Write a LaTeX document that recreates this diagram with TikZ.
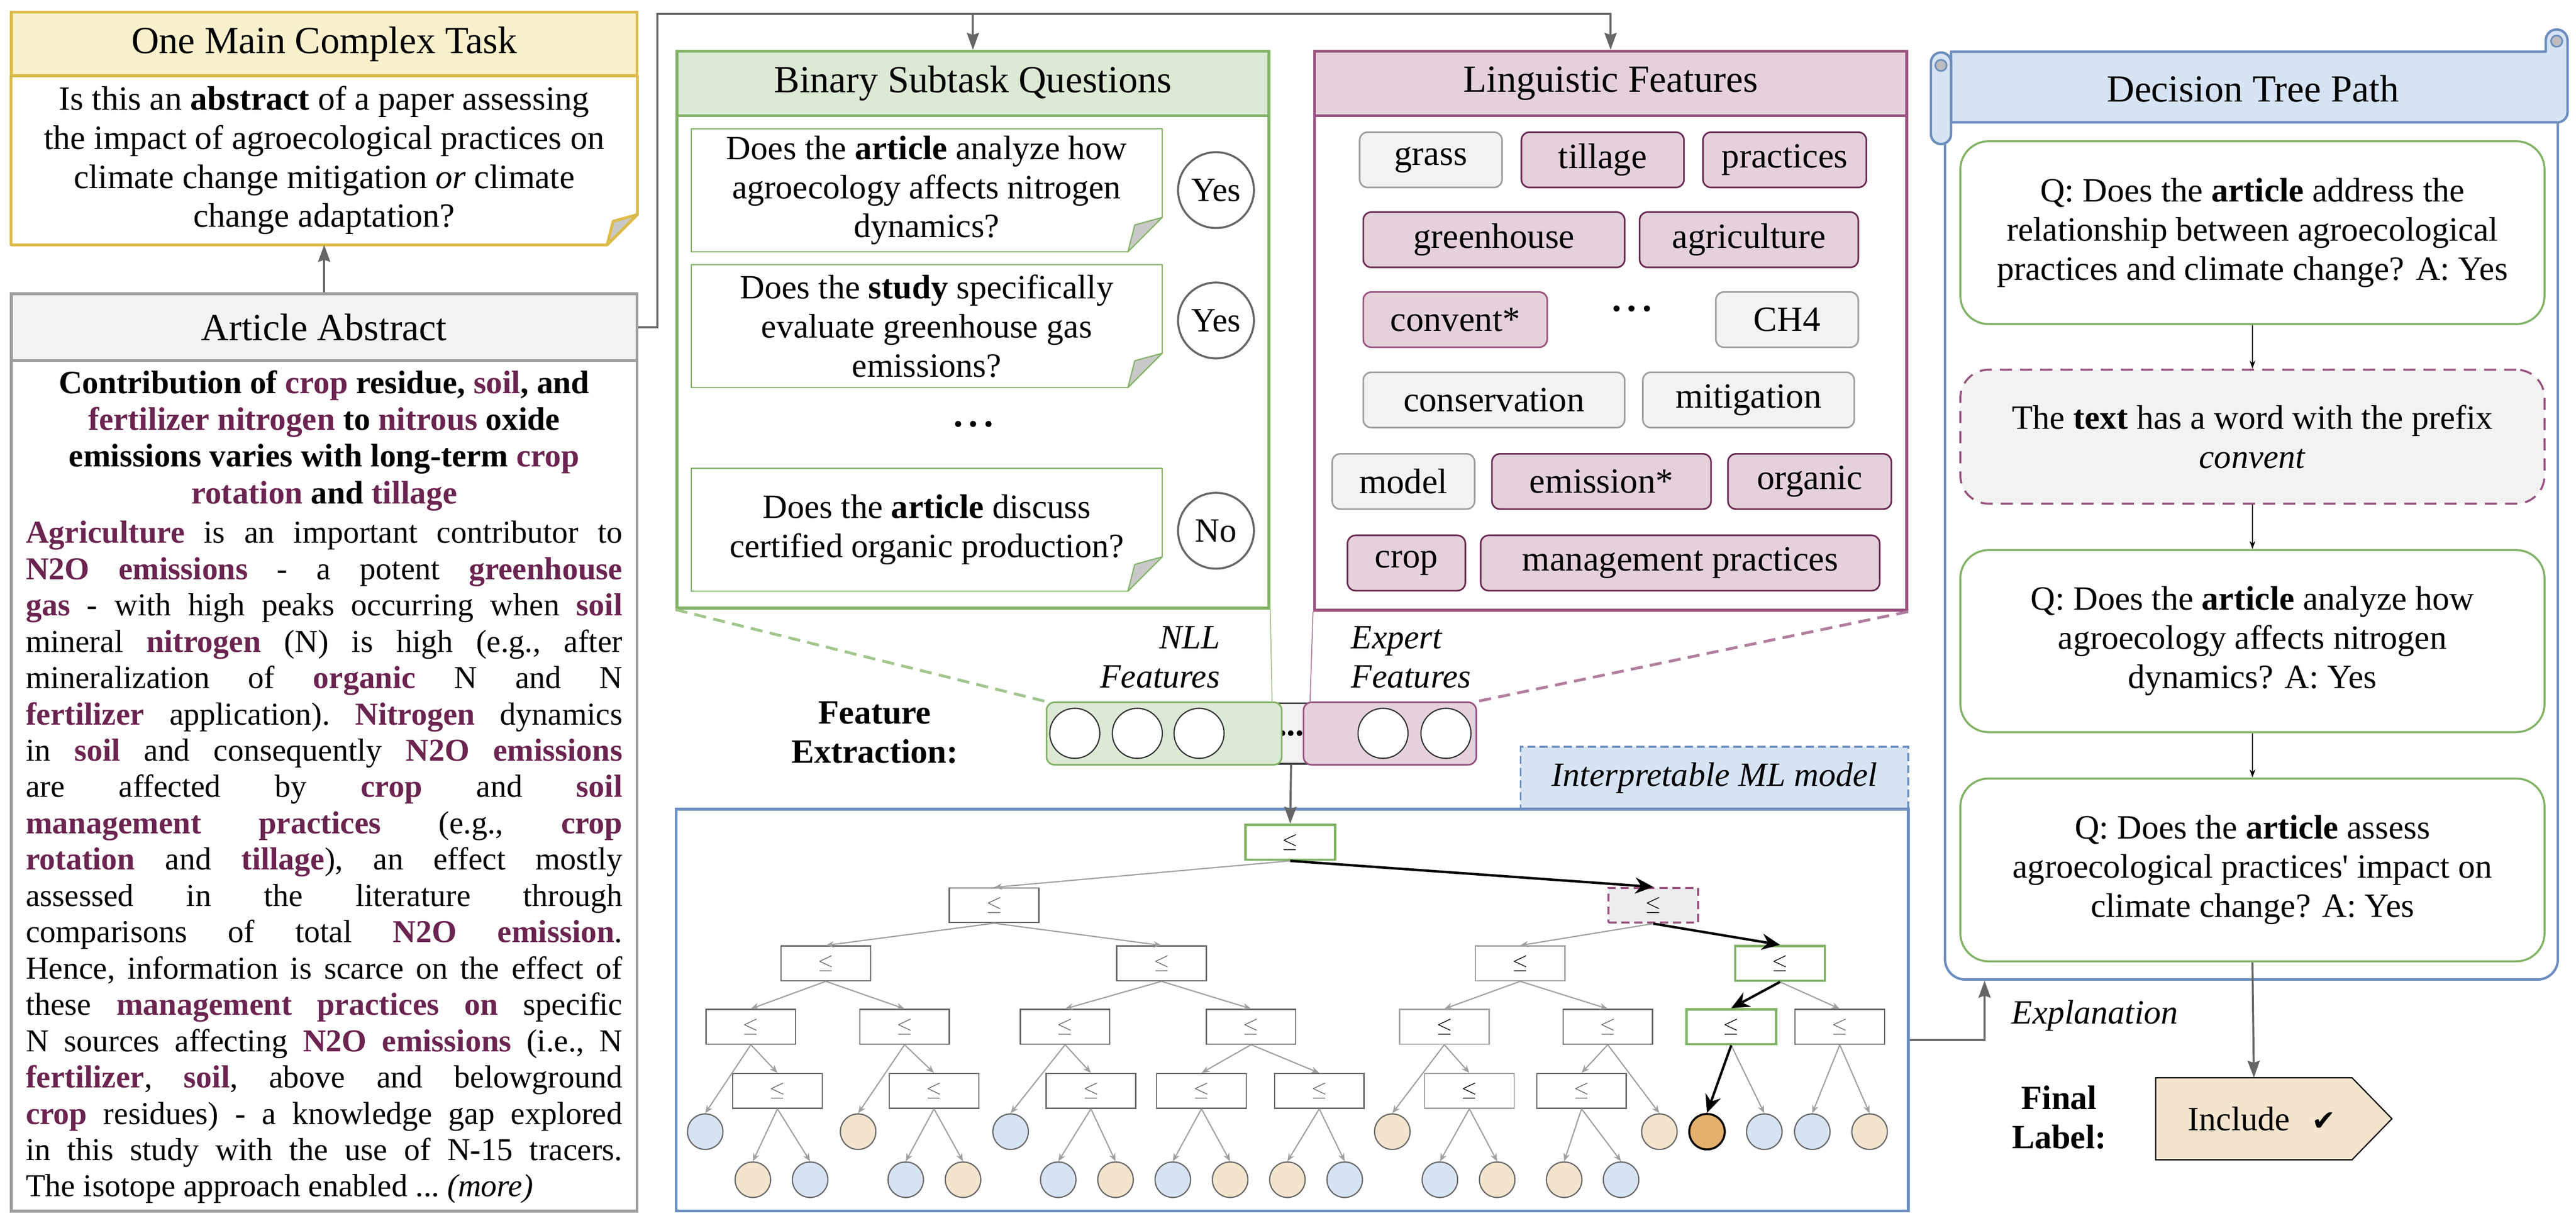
\documentclass[tikz,border=0pt]{standalone}
\usepackage{fontspec}
\setmainfont{Liberation Serif}
\newfontfamily\symf{DejaVu Sans}
\usetikzlibrary{arrows.meta}
\definecolor{wine}{HTML}{6B2450}
\definecolor{cgray}{HTML}{666666}
\definecolor{lgray}{HTML}{A0A0A0}
\definecolor{gborder}{HTML}{9E9E9E}
\definecolor{glight}{HTML}{F2F2F2}
\definecolor{flap}{HTML}{C8C8C8}
\definecolor{yel}{HTML}{DDBB4A}
\definecolor{yellight}{HTML}{FBF0CC}
\definecolor{grn}{HTML}{82B366}
\definecolor{grnlight}{HTML}{DCE9D5}
\definecolor{purp}{HTML}{98527E}
\definecolor{purplight}{HTML}{E4D1DC}
\definecolor{tagdark}{HTML}{6A2A52}
\definecolor{blu}{HTML}{6C8EBF}
\definecolor{blulight}{HTML}{D6E3F3}
\definecolor{sand}{HTML}{F3E4CE}
\definecolor{orng}{HTML}{E3B06E}
\def\qfont{\fontsize{24}{27.6}\selectfont}
\def\tagfont{\fontsize{25}{28}\selectfont}
\def\abfont{\fontsize{22.5}{25.6}\selectfont\frenchspacing}
\def\abtfont{\fontsize{23}{25.9}\selectfont\frenchspacing}
\def\hfont{\fontsize{27}{31}\selectfont}
\def\abw{14.79cm}
\def\kw#1{\textcolor{wine}{\textbf{#1}}}
\def\jl#1{\makebox[\abw][s]{#1}}
\def\dotz{{\fontsize{18}{18}\selectfont\textbullet\hspace{0.15cm}\textbullet\hspace{0.15cm}\textbullet}}

\begin{document}
\begin{tikzpicture}[font=\qfont,
        conn/.style={draw=cgray,line width=0.05cm,-{Stealth[length=0.42cm,width=0.3cm,inset=0.05cm]}},
        bigbox/.style={draw,line width=0.07cm,inner sep=0pt},
        boxhead/.style={draw,line width=0.07cm,inner sep=0pt,font=\hfont},
        qnote/.style={align=center,minimum width=11.66cm,minimum height=3.03cm,inner sep=0pt},
        ans/.style={circle,draw=cgray,line width=0.05cm,minimum size=1.88cm,inner sep=0pt},
        ptag/.style={rounded corners=0.2cm,draw=tagdark,fill=purplight,line width=0.04cm,minimum height=1.37cm,inner sep=0pt,font=\tagfont},
        ltag/.style={ptag,draw=purp},
        gtag/.style={ptag,draw=gborder,fill=glight},
        vec/.style={rounded corners=0.2cm,line width=0.04cm,minimum height=1.55cm,inner sep=0pt},
        tnode/.style={draw=cgray,line width=0.03cm,minimum width=2.22cm,minimum height=0.86cm,inner sep=0pt,text=cgray,font=\fontsize{15}{15}\selectfont},
        tlight/.style={tnode,draw=lgray,text=black},
        tgreen/.style={tnode,draw=grn,line width=0.06cm,text=black},
        tdash/.style={tnode,draw=purp,line width=0.05cm,dash pattern=on 0.2cm off 0.12cm,fill=black!7,text=black},
        tleaf/.style={circle,draw=cgray,line width=0.03cm,minimum size=0.88cm,inner sep=0pt},
        tedge/.style={draw=lgray,line width=0.03cm,-{Stealth[length=0.2cm,width=0.16cm]}},
        tpath/.style={draw=black,line width=0.06cm,-{Stealth[length=0.45cm,width=0.4cm,inset=0.15cm]}},
        pbox/.style={rounded corners=0.7cm,draw=grn,line width=0.05cm,minimum width=14.48cm,align=center,inner sep=0pt},
        parr/.style={line width=0.02cm,-{Stealth[length=0.2cm,width=0.14cm]}}]

        \useasboundingbox (0,0) rectangle (63.85,-30.30);

        % main task
        \node[boxhead,fill=yellight,draw=yel,minimum width=15.51cm,minimum height=1.58cm] (taskh) at (8.035,-1.09) {One Main Complex Task};
        \node[align=center,minimum width=15.51cm,minimum height=4.18cm,inner sep=0pt] (task) at (8.035,-3.97) {Is this an \textbf{abstract} of a paper assessing\\the impact of agroecological practices on\\climate change mitigation \textit{or} climate\\change adaptation?};

        % abstract
        \node[bigbox,draw=gborder,minimum width=15.51cm,minimum height=21.08cm] (ab) at (8.035,-19.47) {};
        \node[boxhead,fill=glight,draw=gborder,minimum width=15.51cm,minimum height=1.65cm] (abh) at (8.035,-8.105) {Article Abstract};
        \node[anchor=north,align=center,inner sep=0pt,font=\abtfont\bfseries] (abt) at (8.035,-9.17) {Contribution of \kw{crop} residue, \kw{soil}, and\\\kw{fertilizer nitrogen} to \kw{nitrous} oxide\\emissions varies with long-term \kw{crop}\\\kw{rotation} and \kw{tillage}};
        \node[anchor=north,align=center,inner sep=0pt,font=\abfont] (abb) at (8.035,-12.90) {\jl{\kw{Agriculture} is an important contributor to}\\
        \jl{\kw{N2O emissions} - a potent \kw{greenhouse}}\\
        \jl{\kw{gas} - with high peaks occurring when \kw{soil}}\\
        \jl{mineral \kw{nitrogen} (N) is high (e.g., after}\\
        \jl{mineralization of \kw{organic} N and N}\\
        \jl{\kw{fertilizer} application). \kw{Nitrogen} dynamics}\\
        \jl{in \kw{soil} and consequently \kw{N2O emissions}}\\
        \jl{are affected by \kw{crop} and \kw{soil}}\\
        \jl{\kw{management practices} (e.g., \kw{crop}}\\
        \jl{\kw{rotation} and \kw{tillage}), an effect mostly}\\
        \jl{assessed in the literature through}\\
        \jl{comparisons of total \kw{N2O emission}.}\\
        \jl{Hence, information is scarce on the effect of}\\
        \jl{these \kw{management practices on} specific}\\
        \jl{N sources affecting \kw{N2O emissions} (i.e., N}\\
        \jl{\kw{fertilizer}, \kw{soil}, above and belowground}\\
        \jl{\kw{crop} residues) - a knowledge gap explored}\\
        \jl{in this study with the use of N-15 tracers.}\\
        \makebox[\abw][l]{The isotope approach enabled ... \textit{(more)}}};

        % binary subtask questions
        \node[bigbox,draw=grn,minimum width=14.67cm,minimum height=12.20cm] (bin) at (24.115,-8.97) {};
        \node[boxhead,fill=grnlight,draw=grn,minimum width=14.67cm,minimum height=1.60cm] (binh) at (24.115,-2.07) {Binary Subtask Questions};
        \node[qnote] (q1) at (22.97,-4.715) {Does the \textbf{article} analyze how\\agroecology affects nitrogen\\dynamics?};
        \node[qnote] (q2) at (22.97,-8.08) {Does the \textbf{study} specifically\\evaluate greenhouse gas\\emissions?};
        \node[qnote] (q3) at (22.97,-13.125) {Does the \textbf{article} discuss\\certified organic production?};
        \node[ans] (a1) at (30.14,-4.71) {Yes};
        \node[ans] (a2) at (30.14,-7.94) {Yes};
        \node[ans] (a3) at (30.14,-13.15) {No};
        \node (bdots) at (24.13,-10.58) {\dotz};

        \foreach \n/\f/\c/\l in {task/0.75/yel/0.07,q1/0.85/grn/0.03,q2/0.85/grn/0.03,q3/0.85/grn/0.03}{
        \draw[draw=\c,line width=\l cm,line join=round] (\n.north west) -- (\n.north east) -- ([yshift=\f cm]\n.south east) -- ([xshift=-\f cm]\n.south east) -- (\n.south west) -- cycle;
        \filldraw[draw=\c,fill=flap,line width=\l cm,line join=round] ([yshift=\f cm]\n.south east) -- ([xshift=-\f cm]\n.south east) -- ([shift={(-0.8*\f,0.78*\f)}]\n.south east) -- cycle;}

        % linguistic features
        \node[bigbox,draw=purp,minimum width=14.68cm,minimum height=12.25cm] (ling) at (39.92,-8.995) {};
        \node[boxhead,fill=purplight,draw=purp,minimum width=14.68cm,minimum height=1.60cm] (lingh) at (39.92,-2.07) {Linguistic Features};
        \foreach \n/\x/\y/\w/\s/\t in {w1/35.465/-3.96/3.53/gtag/grass,w2/39.725/-3.96/4.03/ptag/tillage,w3/44.235/-3.96/4.05/ptag/practices,
        w4/37.03/-5.94/6.48/ptag/greenhouse,w5/43.35/-5.94/5.42/ptag/agriculture,
        w6/36.07/-7.92/4.56/ltag/convent*,w7/44.295/-7.92/3.53/gtag/CH4,
        w8/37.03/-9.91/6.48/gtag/conservation,w9/43.34/-9.91/5.24/gtag/mitigation,
        w10/34.785/-11.93/3.53/gtag/model,w11/39.695/-11.93/5.43/ptag/emission*,w12/44.855/-11.93/4.05/ptag/organic,
        w13/34.86/-13.95/2.92/ptag/crop,w14/41.645/-13.95/9.89/ptag/management practices}
        \node[\s,minimum width=\w cm] (\n) at (\x,\y) {\t};
        \node (ldots) at (40.45,-7.72) {\dotz};

        % feature extraction
        \node[align=center,font=\qfont\bfseries] (fe) at (21.68,-18.15) {Feature\\Extraction:};
        \node[draw=black!75,fill=glight,line width=0.04cm,minimum width=0.9cm,minimum height=1.50cm,inner sep=0pt] (vmid) at (32.0,-18.175) {\textbf{...}};
        \node[vec,fill=grnlight,draw=grn,minimum width=5.83cm] (nll) at (28.855,-18.175) {};
        \node[vec,fill=purplight,draw=purp,minimum width=4.28cm] (exp) at (34.45,-18.175) {};
        \foreach \n/\x in {v1/26.64,v2/28.19,v3/29.72,v4/34.28,v5/35.84} \node[circle,draw=black!80,fill=white,line width=0.03cm,minimum size=1.24cm] (\n) at (\x,-18.17) {};
        \node[anchor=east,align=right,font=\qfont\itshape] (nlllab) at (30.36,-16.28) {NLL\\Features};
        \node[anchor=west,align=left,font=\qfont\itshape] (explab) at (33.37,-16.28) {Expert\\Features};

        \draw[grn!75,line width=0.07cm,dash pattern=on 0.3cm off 0.18cm] (bin.south west) -- (nll.north west);
        \draw[grn!75,line width=0.025cm] (bin.south east) -- (vmid.north west);
        \draw[purp!75,line width=0.025cm] (ling.south west) -- (vmid.north east);
        \draw[purp!75,line width=0.07cm,dash pattern=on 0.3cm off 0.18cm] (ling.south east) -- (exp.north east);

        % tree
        \node[draw=blu,fill=blulight,line width=0.05cm,dash pattern=on 0.2cm off 0.1cm,minimum width=9.61cm,minimum height=1.55cm,inner sep=0pt,font=\qfont\itshape] (ml) at (42.495,-19.275) {Interpretable ML model};
        \node[bigbox,draw=blu,fill=white,minimum width=30.54cm,minimum height=9.95cm] (tree) at (32.03,-25.025) {};

        \foreach \n/\x/\y/\s in {root/31.98/-20.87/tgreen,L/24.64/-22.43/tnode,R/40.98/-22.43/tdash,
        LL/20.47/-23.87/tnode,LR/28.79/-23.87/tnode,RL/37.68/-23.87/tlight,RR/44.12/-23.87/tgreen,
        LLL/18.61/-25.44/tnode,LLR/22.42/-25.44/tnode,LRL/26.40/-25.44/tnode,LRR/31.01/-25.44/tnode,
        RLL/35.80/-25.44/tlight,RLR/39.85/-25.44/tnode,RRL/42.91/-25.44/tgreen,RRR/45.60/-25.44/tnode,
        a/19.27/-27.03/tnode,b/23.15/-27.03/tnode,c/27.04/-27.03/tnode,d/29.78/-27.03/tnode,
        e/32.70/-27.03/tnode,f/36.42/-27.03/tlight,g/39.20/-27.03/tnode}
        \node[\s] (\n) at (\x,\y) {$\leq$};

        \foreach \n/\x/\y/\c in {k1/17.48/-28.04/blulight,k2/21.27/-28.04/sand,k3/25.05/-28.04/blulight,
        k4/34.51/-28.04/sand,k5/41.13/-28.04/sand,k6/43.73/-28.04/blulight,k7/44.92/-28.04/blulight,k8/46.34/-28.04/sand,
        a1/18.66/-29.23/sand,a2/20.08/-29.23/blulight,b1/22.45/-29.23/blulight,b2/23.87/-29.23/sand,
        c1/26.23/-29.23/blulight,c2/27.65/-29.23/sand,d1/29.07/-29.23/blulight,d2/30.49/-29.23/sand,
        e1/31.91/-29.23/sand,e2/33.33/-29.23/blulight,f1/35.69/-29.23/blulight,f2/37.11/-29.23/sand,
        g1/38.77/-29.23/sand,g2/40.18/-29.23/blulight}
        \node[tleaf,fill=\c] (\n) at (\x,\y) {};
        \node[tleaf,fill=orng,draw=black,line width=0.05cm] (lo) at (42.31,-28.04) {};

        \foreach \p/\q in {root/L,L/LL,L/LR,R/RL,RR/RRR,LL/LLL,LL/LLR,LR/LRL,LR/LRR,RL/RLL,RL/RLR,
        LLL/k1,LLL/a,LLR/k2,LLR/b,LRL/k3,LRL/c,LRR/d,LRR/e,RLL/k4,RLL/f,RLR/g,RLR/k5,RRL/k6,RRR/k7,RRR/k8,
        a/a1,a/a2,b/b1,b/b2,c/c1,c/c2,d/d1,d/d2,e/e1,e/e2,f/f1,f/f2,g/g1,g/g2}
        \draw[tedge] (\p.south) -- (\q.north);
        \foreach \p/\q in {root/R,R/RR,RR/RRL,RRL/lo}
        \draw[tpath] (\p.south) -- (\q.north);

        % decision tree path
        \node[draw=blu,line width=0.06cm,rounded corners=0.5cm,minimum width=15.19cm,minimum height=22.27cm] (pbody) at (55.805,-13.135) {};
        \filldraw[draw=blu,fill=blulight,line width=0.06cm,line join=round] (48.36,-1.28) -- (63.10,-1.28) -- (63.10,-1.0) arc (180:0:0.27) -- (63.64,-2.78) arc (0:-90:0.25) -- (48.36,-3.03) -- cycle;
        \filldraw[draw=blu,fill=blulight,line width=0.06cm] (47.86,-1.55) arc (180:0:0.25) -- (48.36,-3.32) arc (0:-180:0.25) -- cycle;
        \filldraw[draw=blu,fill=lgray!70,line width=0.04cm] (48.11,-1.62) circle (0.14);
        \filldraw[draw=blu,fill=lgray!70,line width=0.04cm] (63.37,-1.02) circle (0.14);
        \node[font=\hfont] (pathh) at (55.84,-2.20) {Decision Tree Path};

        \node[pbox,minimum height=4.53cm] (p1) at (55.83,-5.765) {Q: Does the \textbf{article} address the\\relationship between agroecological\\practices and climate change? A: Yes};
        \node[pbox,minimum height=3.32cm,draw=purp,fill=glight,dash pattern=on 0.3cm off 0.2cm] (p2) at (55.83,-10.82) {The \textbf{text} has a word with the prefix\\\textit{convent}};
        \node[pbox,minimum height=4.51cm] (p3) at (55.83,-15.885) {Q: Does the \textbf{article} analyze how\\agroecology affects nitrogen\\dynamics? A: Yes};
        \node[pbox,minimum height=4.53cm] (p4) at (55.83,-21.555) {Q: Does the \textbf{article} assess\\agroecological practices\textquotesingle{} impact on\\climate change? A: Yes};
        \draw[parr] (p1.south) -- (p2.north);
        \draw[parr] (p2.south) -- (p3.north);
        \draw[parr] (p3.south) -- (p4.north);

        % final label
        \node[align=center,font=\qfont\bfseries] (fl) at (51.04,-27.68) {Final\\Label:};
        \node[fill=sand,minimum width=4.85cm,minimum height=2.02cm,inner sep=0pt] (incl) at (55.865,-27.72) {\hspace{0.4cm}Include\hspace{0.55cm}{\symf\fontsize{20}{20}\selectfont ✔}};
        \fill[sand] (incl.north east) -- ([xshift=0.99cm]incl.east) -- (incl.south east) -- cycle;
        \draw[line width=0.03cm] (incl.north west) -- (incl.north east) -- ([xshift=0.99cm]incl.east) -- (incl.south east) -- (incl.south west) -- cycle;

        % connectors
        \coordinate (top) at (16.29,-0.34);
        \draw[conn] (abh.north) -- (task.south);
        \draw[conn] (abh.east) -| (top) -| (lingh.north);
        \draw[conn] (binh.north |- top) -- (binh.north);
        \draw[conn] (vmid.south) -- (root.north);
        \draw[conn] (p4.south) -- (incl.north);
        \draw[conn] ([yshift=-0.75cm]tree.east) -| ([xshift=1.01cm]pbody.south west);
        \node[anchor=west,font=\qfont\itshape] (explan) at (49.74,-25.16) {Explanation};

      \end{tikzpicture}
\end{document}
